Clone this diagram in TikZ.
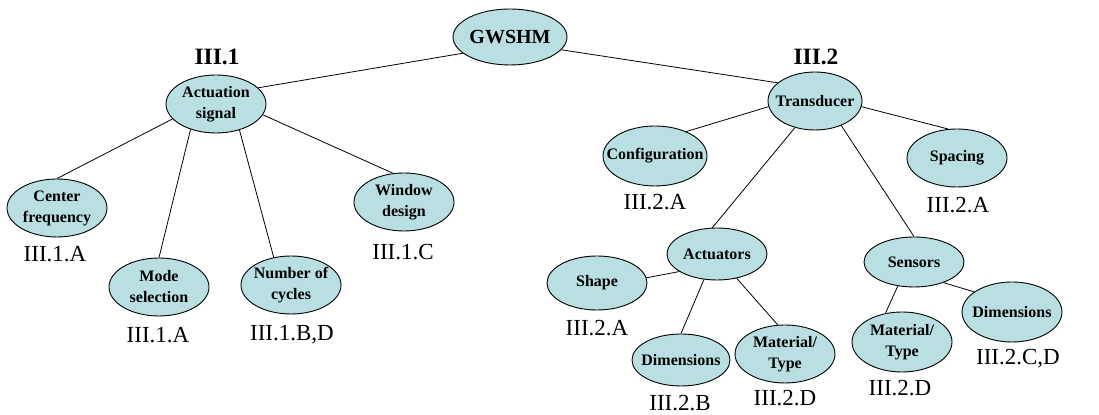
\documentclass[tikz,border=0pt]{standalone}
\usepackage{fontspec}
\setmainfont{Liberation Serif}
\usepackage{xcolor}
\usetikzlibrary{shapes.geometric}
\definecolor{bubfill}{RGB}{185,223,227}

\begin{document}
\begin{tikzpicture}[x=0.5pt,y=-0.5pt,
  bub/.style={ellipse,draw,fill=bubfill,line width=0.45pt,inner xsep=-6pt,inner ysep=-4pt,
    minimum width=50pt,minimum height=29pt,align=center,
    font=\fontsize{8}{10.5}\selectfont\bfseries},
  lab/.style={anchor=base,inner sep=0pt,font=\fontsize{11.5}{13}\selectfont},
  head/.style={anchor=base,inner sep=0pt,font=\fontsize{11.7}{14}\selectfont\bfseries}]
\useasboundingbox (0,0) rectangle (1099,415);
\node[bub,minimum width=57pt,minimum height=28pt,font=\fontsize{10}{12}\selectfont\bfseries] (0) at (510,37) {GWSHM};
\node[bub] (1) at (216,104) {Actuation\\signal};
\node[bub] (2) at (57,208) {Center\\frequency};
\node[bub] (3) at (159,287) {Mode\\selection};
\node[bub] (4) at (291,285) {Number of\\cycles};
\node[bub] (5) at (404,202) {Window\\design};
\node[bub,minimum width=47pt] (6) at (815,101) {Transducer};
\node[bub,minimum width=52pt,minimum height=30pt] (7) at (655,156) {Configuration};
\node[bub] (8) at (957,158) {Spacing};
\node[bub,minimum height=26pt] (9) at (717,254) {Actuators};
\node[bub,minimum height=27pt] (10) at (597,283) {Shape};
\node[bub,minimum width=49pt,minimum height=26pt] (11) at (681,360) {Dimensions};
\node[bub] (12) at (785,354) {Material/\\Type};
\node[bub,minimum height=25pt] (13) at (914,262) {Sensors};
\node[bub,minimum height=30pt] (14) at (902,342) {Material/\\Type};
\node[bub,minimum height=30pt] (15) at (1012,312) {Dimensions};
% section numbers
\node[head] (16) at (217,65) {III.1};
\node[head] (17) at (816,65) {III.2};
% references
\node[lab] (18) at (55,261.5) {III.1.A};
\node[lab] (19) at (158,342.5) {III.1.A};
\node[lab] (20) at (292,340.5) {III.1.B,D};
\node[lab] (21) at (403,259.5) {III.1.C};
\node[lab] (22) at (655,209.5) {III.2.A};
\node[lab] (23) at (958,212.5) {III.2.A};
\node[lab] (24) at (597,335.5) {III.2.A};
\node[lab] (25) at (680,410.5) {III.2.B};
\node[lab] (26) at (785,405.5) {III.2.D};
\node[lab] (27) at (900,395.5) {III.2.D};
\node[lab] (28) at (1018,364.5) {III.2.C,D};
\draw [-,>=latex,line width=0.4pt](0.199)--(1.21);
\draw [-,>=latex,line width=0.4pt](0.346)--(6.154);
\draw [-,>=latex,line width=0.4pt](1.199)--(2.north);
\draw [-,>=latex,line width=0.4pt](1.225)--(3.north);
\draw [-,>=latex,line width=0.4pt](1.312)--(4.122);
\draw [-,>=latex,line width=0.4pt](1.347)--(5.111);
\draw [-,>=latex,line width=0.4pt](6.187)--(7.38);
\draw [-,>=latex,line width=0.4pt](6.353)--(8.107);
\draw [-,>=latex,line width=0.4pt](6.233)--(9.100);
\draw [-,>=latex,line width=0.4pt](6.317)--(13.north);
\draw [-,>=latex,line width=0.4pt](9.205)--(10.6);
\draw [-,>=latex,line width=0.4pt](9.243)--(11.north);
\draw [-,>=latex,line width=0.4pt](9.309)--(12.104);
\draw [-,>=latex,line width=0.4pt](13.236)--(14.120);
\draw [-,>=latex,line width=0.4pt](13.325)--(15.152);
\end{tikzpicture}
\end{document}
